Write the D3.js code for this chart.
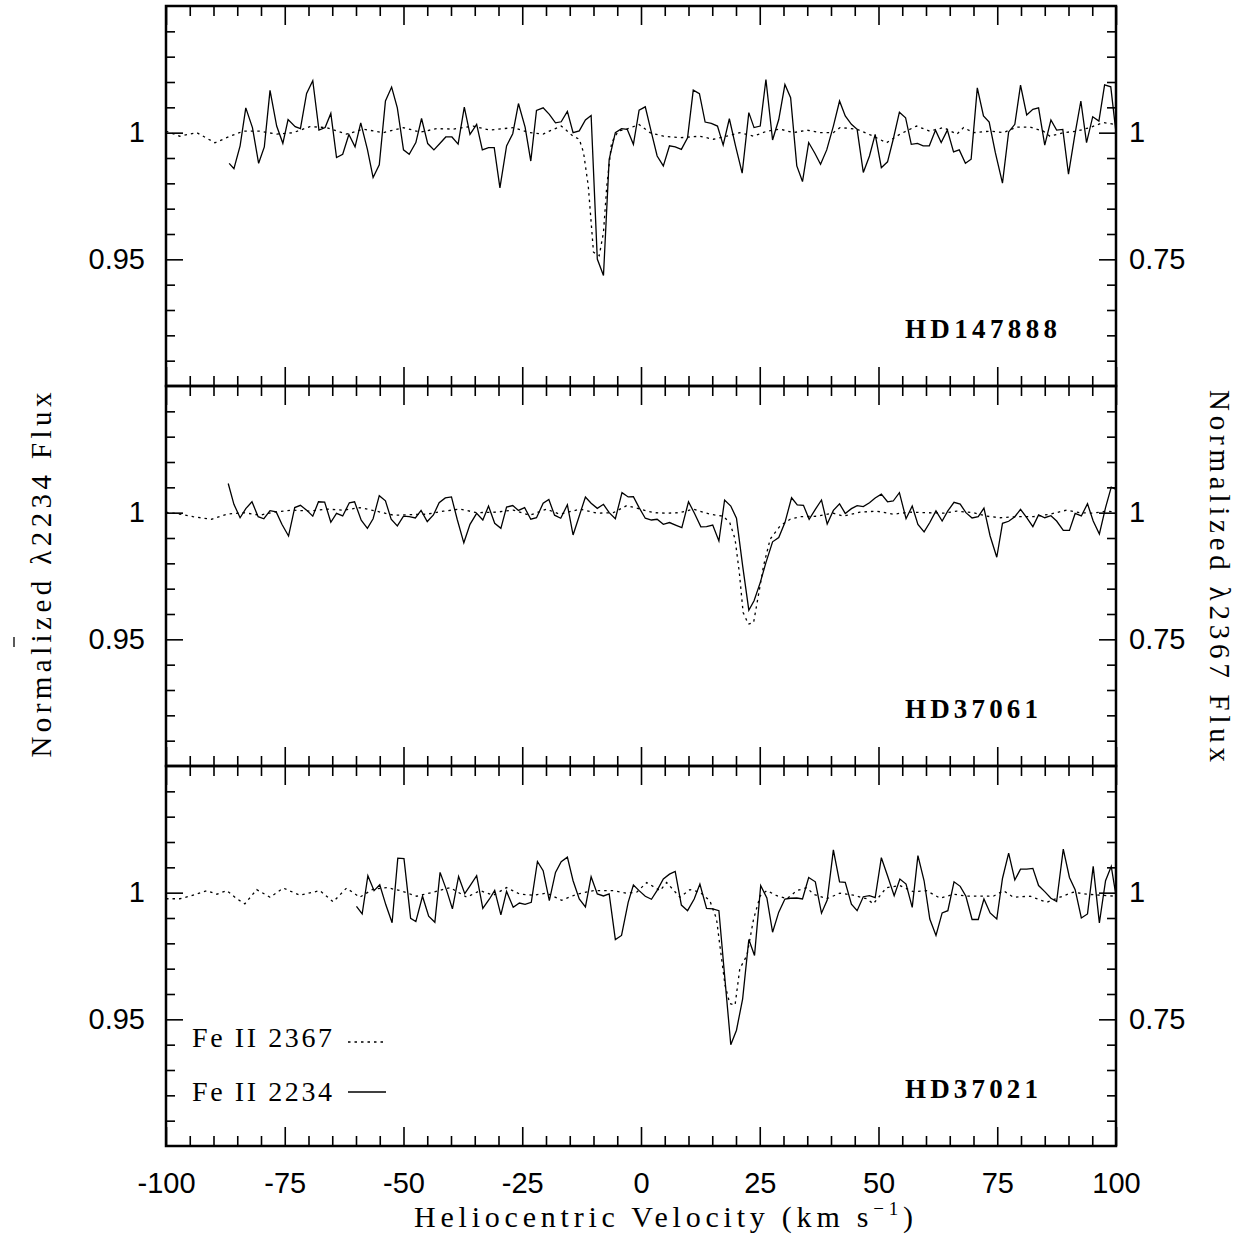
<!DOCTYPE html>
<html><head><meta charset="utf-8">
<script src="https://cdn.jsdelivr.net/npm/d3@7"></script>
<style>html,body{margin:0;padding:0;background:#fff;}</style>
</head><body>
<script>
// ---------------- DATA ----------------
const starNames = ["HD147888", "HD37061", "HD37021"];
const legendLabels = ["Fe II 2367", "Fe II 2234"];
const xMajorTicks = [-100, -75, -50, -25, 0, 25, 50, 75, 100];
const leftMajorTicks = [0.95, 1];
const rightMajorTicks = [0.75, 1];
const xTitle = "Heliocentric Velocity (km s";
const leftTitle = "Normalized \u03bb2234 Flux";
const rightTitle = "Normalized \u03bb2367 Flux";

// Fe II 2234 (solid, left axis) [velocity, normalized flux]
const fe2234_HD147888 = [[-86.7,0.9879],[-85.7,0.9858],[-84.4,0.9948],[-83.2,1.0098],[-81.8,1.0020],[-80.5,0.9879],[-79.3,0.9944],[-78.1,1.0167],[-76.7,1.0026],[-75.4,0.9958],[-74.3,1.0052],[-72.8,1.0024],[-71.7,1.0016],[-70.4,1.0155],[-69.1,1.0205],[-67.8,1.0010],[-66.5,1.0020],[-65.3,1.0076],[-64.1,0.9902],[-62.8,0.9915],[-61.5,0.9993],[-60.2,0.9944],[-59.0,1.0039],[-57.6,0.9934],[-56.4,0.9823],[-55.1,0.9873],[-53.8,1.0125],[-52.5,1.0180],[-51.3,1.0098],[-50.0,0.9932],[-48.8,0.9915],[-47.4,0.9961],[-46.2,1.0056],[-44.9,0.9957],[-43.6,0.9932],[-42.3,0.9958],[-41.1,0.9983],[-39.8,0.9983],[-38.5,0.9955],[-37.2,1.0101],[-36.0,0.9993],[-34.6,1.0033],[-33.4,0.9932],[-32.1,0.9941],[-30.9,0.9941],[-29.7,0.9782],[-28.3,0.9948],[-27.0,0.9996],[-25.8,1.0115],[-24.4,1.0022],[-23.2,0.9888],[-22.0,1.0088],[-20.6,1.0098],[-19.3,1.0072],[-18.0,1.0039],[-16.8,1.0043],[-15.5,1.0084],[-14.3,1.0000],[-13.0,1.0007],[-11.7,1.0050],[-10.5,1.0068],[-9.2,0.9501],[-7.9,0.9436],[-6.7,0.9895],[-5.4,1.0000],[-4.1,1.0016],[-2.9,1.0013],[-1.6,0.9954],[-0.4,1.0089],[0.9,1.0102],[2.2,1.0000],[3.4,0.9908],[4.7,0.9869],[6.0,0.9948],[7.2,0.9944],[8.5,0.9934],[9.8,0.9980],[11.0,1.0168],[12.3,1.0154],[13.5,1.0042],[14.8,1.0037],[16.1,1.0026],[17.3,0.9951],[18.6,1.0055],[19.9,0.9948],[21.3,0.9840],[22.7,1.0079],[23.8,1.0020],[25.1,1.0026],[26.3,1.0210],[27.7,0.9971],[29.0,1.0052],[30.3,1.0190],[31.5,1.0138],[32.8,0.9869],[34.0,0.9807],[35.3,0.9961],[36.6,0.9919],[37.8,0.9875],[39.1,0.9932],[40.5,1.0026],[41.8,1.0125],[43.0,1.0066],[44.3,1.0033],[45.5,1.0013],[46.8,0.9843],[48.1,0.9908],[49.3,0.9993],[50.6,0.9862],[51.9,0.9885],[53.1,0.9974],[54.4,1.0081],[55.7,1.0059],[56.9,0.9954],[58.2,0.9958],[59.4,0.9948],[60.7,0.9948],[62.0,1.0010],[63.2,0.9961],[64.5,1.0010],[65.8,0.9924],[67.0,0.9932],[68.3,0.9879],[69.5,0.9895],[70.8,1.0177],[72.1,1.0066],[73.3,1.0042],[74.6,0.9921],[76.1,0.9801],[77.4,1.0003],[78.7,1.0033],[79.9,1.0188],[81.2,1.0070],[82.5,1.0092],[83.7,1.0098],[85.0,0.9951],[86.3,1.0050],[87.5,1.0010],[88.8,1.0013],[90.0,0.9836],[91.3,0.9987],[92.6,1.0125],[93.8,0.9961],[95.1,1.0063],[96.4,1.0046],[97.6,1.0189],[98.9,1.0181],[100.0,1.0000]];

const fe2234_HD37061 = [[-86.9,1.0115],[-85.7,1.0033],[-84.4,0.9980],[-83.2,1.0016],[-81.9,1.0043],[-80.6,0.9984],[-79.4,0.9976],[-78.1,1.0008],[-76.8,1.0003],[-75.6,0.9954],[-74.2,0.9908],[-72.9,1.0020],[-71.7,1.0029],[-70.4,1.0010],[-69.1,0.9986],[-67.9,1.0043],[-66.6,1.0042],[-65.3,0.9962],[-64.1,0.9997],[-62.8,0.9987],[-61.4,1.0039],[-60.3,1.0043],[-58.9,0.9970],[-57.6,0.9938],[-56.4,0.9976],[-55.1,1.0067],[-53.8,1.0047],[-52.6,0.9974],[-51.3,0.9948],[-50.0,0.9986],[-48.8,0.9984],[-47.5,0.9979],[-46.3,1.0009],[-45.0,0.9965],[-43.7,0.9991],[-42.5,1.0039],[-41.2,1.0058],[-39.9,1.0062],[-38.7,0.9974],[-37.3,0.9881],[-36.0,0.9954],[-34.6,0.9997],[-33.3,0.9971],[-32.1,1.0026],[-30.8,0.9958],[-29.5,0.9938],[-28.3,1.0022],[-27.0,1.0028],[-25.8,1.0009],[-24.5,1.0020],[-23.2,0.9974],[-22.0,0.9980],[-20.6,1.0037],[-19.4,1.0052],[-18.2,0.9990],[-16.9,0.9978],[-15.5,1.0031],[-14.3,0.9912],[-13.0,0.9987],[-11.7,1.0062],[-10.5,1.0037],[-9.2,1.0017],[-7.9,1.0033],[-6.7,1.0000],[-5.4,0.9976],[-4.0,1.0079],[-2.7,1.0062],[-1.6,1.0063],[-0.4,1.0020],[0.9,0.9978],[2.2,0.9971],[3.4,0.9974],[4.7,0.9954],[6.0,0.9961],[7.4,0.9950],[8.6,0.9941],[10.0,1.0043],[11.3,0.9996],[12.6,0.9944],[13.8,0.9945],[15.1,0.9951],[16.4,0.9888],[17.6,1.0050],[18.9,1.0026],[20.1,0.9978],[21.4,0.9790],[22.7,0.9615],[23.8,0.9652],[25.1,0.9724],[26.3,0.9803],[27.7,0.9885],[29.0,0.9902],[30.3,0.9961],[31.7,1.0059],[32.9,1.0031],[34.2,1.0029],[35.4,0.9974],[36.7,1.0013],[38.0,1.0050],[39.2,0.9955],[40.5,1.0009],[41.8,1.0035],[43.0,0.9997],[44.3,1.0016],[45.5,1.0028],[46.8,1.0024],[48.1,1.0039],[49.3,1.0058],[50.6,1.0073],[51.9,1.0043],[53.1,1.0046],[54.4,1.0079],[55.8,0.9976],[57.1,1.0026],[58.3,0.9954],[59.6,0.9924],[60.8,0.9961],[62.1,1.0007],[63.4,0.9967],[64.6,1.0007],[65.9,1.0041],[67.2,1.0034],[68.4,1.0000],[69.7,0.9979],[71.0,0.9984],[72.2,1.0018],[73.5,0.9908],[74.9,0.9824],[76.1,0.9958],[77.4,0.9966],[78.7,0.9984],[79.9,1.0013],[81.2,0.9980],[82.5,0.9945],[83.7,0.9991],[85.0,0.9980],[86.3,0.9988],[87.5,0.9967],[88.9,0.9930],[90.2,0.9930],[91.4,0.9997],[92.7,0.9987],[94.0,1.0035],[95.2,0.9967],[96.5,0.9916],[97.8,1.0020],[99.0,1.0101],[100.0,1.0092]];

const fe2234_HD37021 = [[-59.9,0.9946],[-58.7,0.9916],[-57.5,1.0067],[-56.2,1.0008],[-55.0,1.0031],[-53.7,0.9951],[-52.4,0.9881],[-51.2,1.0136],[-49.9,1.0134],[-48.5,0.9899],[-47.4,0.9886],[-46.0,0.9986],[-44.7,0.9907],[-43.4,0.9883],[-42.3,1.0080],[-40.9,1.0008],[-39.7,0.9936],[-38.4,1.0064],[-37.1,0.9996],[-35.9,1.0030],[-34.6,1.0067],[-33.3,0.9938],[-31.9,0.9975],[-30.8,1.0009],[-29.5,0.9912],[-28.3,1.0005],[-26.9,0.9942],[-25.6,0.9959],[-24.4,0.9954],[-23.1,0.9962],[-21.8,1.0123],[-20.6,1.0087],[-19.3,0.9969],[-18.0,1.0080],[-16.8,1.0122],[-15.5,1.0140],[-14.3,1.0047],[-13.0,0.9975],[-11.7,0.9944],[-10.5,1.0063],[-9.2,0.9995],[-7.9,0.9987],[-6.7,0.9995],[-5.4,0.9815],[-4.1,0.9831],[-2.7,0.9962],[-1.6,1.0030],[-0.4,1.0008],[0.9,0.9986],[2.2,0.9974],[3.4,1.0009],[4.7,1.0054],[6.0,1.0073],[7.2,1.0084],[8.5,0.9951],[9.8,0.9929],[11.2,0.9975],[12.4,1.0034],[13.8,0.9938],[15.1,0.9936],[16.4,0.9929],[17.6,0.9673],[18.9,0.9400],[20.1,0.9457],[21.4,0.9581],[22.7,0.9815],[23.9,0.9752],[25.2,1.0028],[26.5,0.9979],[27.7,0.9844],[29.0,0.9923],[30.3,0.9975],[31.5,0.9978],[32.8,0.9979],[34.0,0.9975],[35.3,1.0060],[36.7,1.0043],[38.0,0.9919],[39.2,0.9971],[40.5,1.0169],[41.8,1.0043],[43.0,1.0041],[44.3,0.9955],[45.5,0.9929],[46.8,0.9984],[48.1,0.9988],[49.3,0.9980],[50.6,1.0138],[51.9,1.0067],[53.3,0.9988],[54.5,1.0054],[55.8,1.0034],[57.1,0.9942],[58.3,1.0146],[59.6,1.0047],[60.8,0.9896],[62.1,0.9831],[63.4,0.9920],[64.6,0.9929],[65.9,1.0043],[67.2,1.0025],[68.4,0.9986],[69.7,0.9894],[71.0,0.9894],[72.2,0.9975],[73.5,0.9920],[74.9,0.9896],[76.1,1.0056],[77.4,1.0156],[78.7,1.0050],[79.9,1.0093],[81.2,1.0093],[82.5,1.0096],[83.7,1.0028],[85.0,1.0004],[86.3,0.9978],[87.5,0.9965],[88.9,1.0172],[90.2,1.0060],[91.4,1.0012],[92.7,0.9900],[94.0,0.9916],[95.2,1.0104],[96.5,0.9881],[97.8,1.0047],[99.0,1.0104],[100.0,0.9988]];

// Fe II 2367 (dotted, right axis) [velocity, normalized flux]
const fe2367_HD147888 = [[-100,1.003],[-97.1,0.993],[-93.5,1.000],[-89.7,0.980],[-86.5,0.993],[-83.7,1.003],[-80.2,1.003],[-76.7,0.997],[-73.2,1.000],[-69.7,1.012],[-66.2,1.010],[-62.0,0.997],[-58.5,1.007],[-54.3,1.000],[-50.0,1.010],[-46.5,1.001],[-43.0,1.008],[-39.5,1.007],[-35.3,1.013],[-31.8,1.005],[-26.9,1.010],[-23.4,1.000],[-20.6,0.997],[-19.3,1.003],[-16.8,1.013],[-15.5,1.003],[-14.3,0.993],[-13.0,0.987],[-12.1,0.961],[-11.1,0.895],[-10.0,0.764],[-8.8,0.757],[-7.9,0.803],[-7.2,0.895],[-6.2,0.980],[-4.8,1.003],[-3.0,1.007],[-0.4,1.016],[1.9,1.000],[4.7,0.993],[8.2,0.990],[12.4,0.993],[15.2,0.987],[18.0,0.993],[20.8,1.000],[23.7,0.993],[26.5,1.003],[29.3,1.007],[32.1,1.000],[34.9,1.005],[37.7,1.000],[40.5,1.000],[41.9,1.010],[45.4,1.007],[48.9,0.993],[51.7,0.980],[54.5,0.997],[58.0,1.013],[60.8,1.003],[63.7,1.010],[66.5,0.997],[67.9,1.010],[70.0,1.000],[73.5,1.003],[76.3,1.000],[79.1,1.011],[81.9,1.011],[84.7,1.003],[86.1,0.993],[88.9,1.000],[91.7,1.003],[94.5,1.010],[97.3,1.020],[100,1.016]];

const fe2367_HD37061 = [[-100,1.001],[-97.1,0.997],[-94.3,0.992],[-90.4,0.987],[-87.2,0.997],[-83.7,1.000],[-80.2,0.995],[-77.4,1.001],[-73.2,1.005],[-69.7,1.003],[-66.2,1.007],[-62.7,1.005],[-59.2,1.010],[-55.7,1.003],[-52.1,0.995],[-48.6,0.996],[-45.1,0.997],[-41.6,1.003],[-38.1,1.007],[-34.6,1.000],[-30.4,1.001],[-26.9,1.005],[-23.4,0.995],[-19.9,1.007],[-17.1,0.997],[-12.8,1.007],[-9.3,0.999],[-5.8,1.000],[-3.0,1.014],[-0.2,1.007],[2.6,1.000],[5.4,0.999],[8.2,1.000],[11.0,1.007],[14.5,0.997],[17.3,0.993],[18.7,0.980],[19.8,0.948],[20.7,0.882],[21.5,0.803],[22.6,0.780],[23.7,0.783],[24.7,0.836],[25.8,0.895],[27.2,0.948],[29.3,0.974],[31.4,0.987],[33.5,0.992],[37.0,0.993],[40.5,0.999],[42.6,0.993],[46.1,1.001],[49.6,1.003],[53.1,0.997],[56.6,1.001],[60.1,1.000],[63.7,0.999],[66.5,1.003],[70.0,1.000],[72.8,0.993],[75.6,0.990],[79.1,0.992],[82.6,0.992],[86.1,0.997],[89.6,1.005],[92.4,1.000],[95.2,0.999],[98.0,1.003],[100,1.001]];

const fe2367_HD37021 = [[-100,0.988],[-97.1,0.988],[-95.0,0.993],[-91.4,1.004],[-89.3,0.997],[-87.2,1.004],[-85.1,0.988],[-83.4,0.978],[-80.9,1.006],[-78.1,0.991],[-75.3,1.009],[-71.8,0.995],[-67.6,1.004],[-64.8,0.982],[-62.0,1.009],[-59.2,0.991],[-56.4,1.007],[-53.5,1.010],[-50.7,1.004],[-47.2,0.993],[-43.7,1.001],[-40.2,1.010],[-36.7,0.991],[-33.9,1.004],[-31.1,0.995],[-28.3,1.010],[-25.5,0.997],[-22.7,0.995],[-19.9,0.999],[-16.7,0.985],[-13.5,0.997],[-10.0,1.004],[-5.8,1.004],[-3.0,0.999],[-0.9,1.001],[1.2,1.020],[4.0,1.004],[5.4,1.020],[8.2,0.991],[10.3,1.006],[12.4,1.001],[14.5,0.984],[15.9,0.948],[16.6,0.896],[17.7,0.817],[18.7,0.781],[19.8,0.778],[20.8,0.850],[22.3,0.876],[23.7,0.948],[25.1,0.994],[26.5,1.004],[28.6,0.994],[30.7,0.988],[32.8,1.004],[34.9,1.010],[36.3,0.997],[39.1,0.988],[41.9,0.999],[44.7,0.995],[47.5,0.988],[48.9,0.978],[51.7,1.010],[54.5,1.014],[57.3,1.002],[60.1,1.004],[63.0,0.989],[65.8,0.997],[68.6,0.993],[71.4,0.993],[74.2,0.993],[76.3,1.004],[78.4,0.991],[81.9,0.993],[85.4,0.981],[88.2,0.991],[91.0,1.001],[93.8,0.997],[96.6,0.995],[100,0.993]];

const solidSeries = [fe2234_HD147888, fe2234_HD37061, fe2234_HD37021];
const dottedSeries = [fe2367_HD147888, fe2367_HD37061, fe2367_HD37021];

// ---------------- LAYOUT ----------------
const W = 1248, H = 1237;
const L = 166, R = 1116, T0 = 6, PH = 380;
const serif = "'Liberation Serif','Times New Roman',serif";
const sans = "'Liberation Sans',Arial,Helvetica,sans-serif";
const tickFont = 29;

const svg = d3.select("body").append("svg").attr("width", W).attr("height", H)
  .style("display","block");
svg.append("rect").attr("width", W).attr("height", H).attr("fill", "#fff");

const x = d3.scaleLinear().domain([-100, 100]).range([L, R]);
const xMinor = d3.range(-95, 100, 5).filter(v => v % 25 !== 0);
const leftMinor = d3.range(91, 105).map(v => v / 100).filter(v => !leftMajorTicks.includes(v));
const rightMinor = d3.range(11, 25).map(v => v * 5 / 100).filter(v => !rightMajorTicks.includes(+v.toFixed(2)));

function styleTicks(g) {
  g.select(".domain").remove();
  g.selectAll("line").attr("stroke", "#000").attr("stroke-width", 1.6);
}
function styleLabels(g) {
  g.select(".domain").remove();
  g.attr("font-size", null).attr("font-family", null);
  g.selectAll("text").attr("font-size", tickFont).attr("font-family", sans).attr("fill", "#000");
}

starNames.forEach((name, i) => {
  const top = T0 + PH * i, bot = top + PH;
  const yL = d3.scaleLinear().domain([0.9, 1.05]).range([bot, top]);
  const yR = d3.scaleLinear().domain([0.5, 1.25]).range([bot, top]);
  const g = svg.append("g");

  g.append("clipPath").attr("id", "clip" + i)
    .append("rect").attr("x", L).attr("y", top).attr("width", R - L).attr("height", PH);

  // ticks: x (bottom & top, inward)
  g.append("g").attr("transform", `translate(0,${bot})`)
    .call(d3.axisTop(x).tickValues(xMajorTicks).tickSize(19).tickFormat("")).call(styleTicks);
  g.append("g").attr("transform", `translate(0,${bot})`)
    .call(d3.axisTop(x).tickValues(xMinor).tickSize(10).tickFormat("")).call(styleTicks);
  g.append("g").attr("transform", `translate(0,${top})`)
    .call(d3.axisBottom(x).tickValues(xMajorTicks).tickSize(19).tickFormat("")).call(styleTicks);
  g.append("g").attr("transform", `translate(0,${top})`)
    .call(d3.axisBottom(x).tickValues(xMinor).tickSize(10).tickFormat("")).call(styleTicks);

  // y ticks left (inward)
  g.append("g").attr("transform", `translate(${L},0)`)
    .call(d3.axisRight(yL).tickValues(leftMajorTicks).tickSize(17).tickFormat("")).call(styleTicks);
  g.append("g").attr("transform", `translate(${L},0)`)
    .call(d3.axisRight(yL).tickValues(leftMinor).tickSize(9).tickFormat("")).call(styleTicks);
  // y ticks right (inward)
  g.append("g").attr("transform", `translate(${R},0)`)
    .call(d3.axisLeft(yR).tickValues(rightMajorTicks).tickSize(17).tickFormat("")).call(styleTicks);
  g.append("g").attr("transform", `translate(${R},0)`)
    .call(d3.axisLeft(yR).tickValues(rightMinor).tickSize(9).tickFormat("")).call(styleTicks);

  // tick labels
  g.append("g").attr("transform", `translate(${L},0)`)
    .call(d3.axisLeft(yL).tickValues(leftMajorTicks).tickSize(0).tickPadding(21).tickFormat(d => String(d)))
    .call(styleLabels);
  g.append("g").attr("transform", `translate(${R},0)`)
    .call(d3.axisRight(yR).tickValues(rightMajorTicks).tickSize(0).tickPadding(13).tickFormat(d => String(d)))
    .call(styleLabels);

  // data lines
  const lineL = d3.line().x(d => x(d[0])).y(d => yL(d[1]));
  const lineR = d3.line().x(d => x(d[0])).y(d => yR(d[1]));
  const dg = g.append("g").attr("clip-path", `url(#clip${i})`);
  dg.append("path").datum(dottedSeries[i]).attr("d", lineR)
    .attr("fill", "none").attr("stroke", "#000").attr("stroke-width", 1.3)
    .attr("stroke-dasharray", "2.5,4");
  dg.append("path").datum(solidSeries[i]).attr("d", lineL)
    .attr("fill", "none").attr("stroke", "#000").attr("stroke-width", 1.3)
    .attr("stroke-linejoin", "miter");

  // frame
  g.append("rect").attr("x", L).attr("y", top).attr("width", R - L).attr("height", PH)
    .attr("fill", "none").attr("stroke", "#000").attr("stroke-width", 2.5);

  // star label
  g.append("text").attr("x", 905).attr("y", top + 332)
    .attr("font-family", serif).attr("font-weight", "bold").attr("font-size", 27)
    .attr("textLength", 19 * name.length).attr("lengthAdjust", "spacing")
    .text(name);
});

// x tick labels (bottom panel only)
svg.append("g").attr("transform", `translate(0,${T0 + 3 * PH})`)
  .call(d3.axisBottom(x).tickValues(xMajorTicks).tickSize(0).tickPadding(26).tickFormat(d => String(d)))
  .call(styleLabels);

// axis titles
const xt = svg.append("text").attr("x", 663.5).attr("y", 1227).attr("text-anchor", "middle")
  .attr("font-family", serif).attr("font-size", 30)
  .attr("textLength", 499).attr("lengthAdjust", "spacing");
xt.append("tspan").text(xTitle);
xt.append("tspan").attr("font-size", 19).attr("dy", -12).text("\u22121");
xt.append("tspan").attr("dy", 12).text(")");

svg.append("text").attr("transform", "translate(51,575) rotate(-90)")
  .attr("text-anchor", "middle").attr("font-family", serif).attr("font-size", 29)
  .attr("textLength", 365).attr("lengthAdjust", "spacing").text(leftTitle);
svg.append("line").attr("x1", 14).attr("x2", 14).attr("y1", 637).attr("y2", 647)
  .attr("stroke", "#000").attr("stroke-width", 1.3);

svg.append("text").attr("transform", "translate(1210,576) rotate(90)")
  .attr("text-anchor", "middle").attr("font-family", serif).attr("font-size", 29)
  .attr("textLength", 372).attr("lengthAdjust", "spacing").text(rightTitle);

// legend
const leg = svg.append("g");
[[1047, 1042, "2.5,4"], [1101, 1092, null]].forEach((p, k) => {
  leg.append("text").attr("x", 192).attr("y", p[0]).attr("font-family", serif)
    .attr("font-size", 28).attr("textLength", 140).attr("lengthAdjust", "spacing")
    .text(legendLabels[k]);
  const ln = leg.append("line").attr("x1", 348).attr("x2", 386).attr("y1", p[1]).attr("y2", p[1])
    .attr("stroke", "#000").attr("stroke-width", 1.3);
  if (p[2]) ln.attr("stroke-dasharray", p[2]);
});
</script>
</body></html>
